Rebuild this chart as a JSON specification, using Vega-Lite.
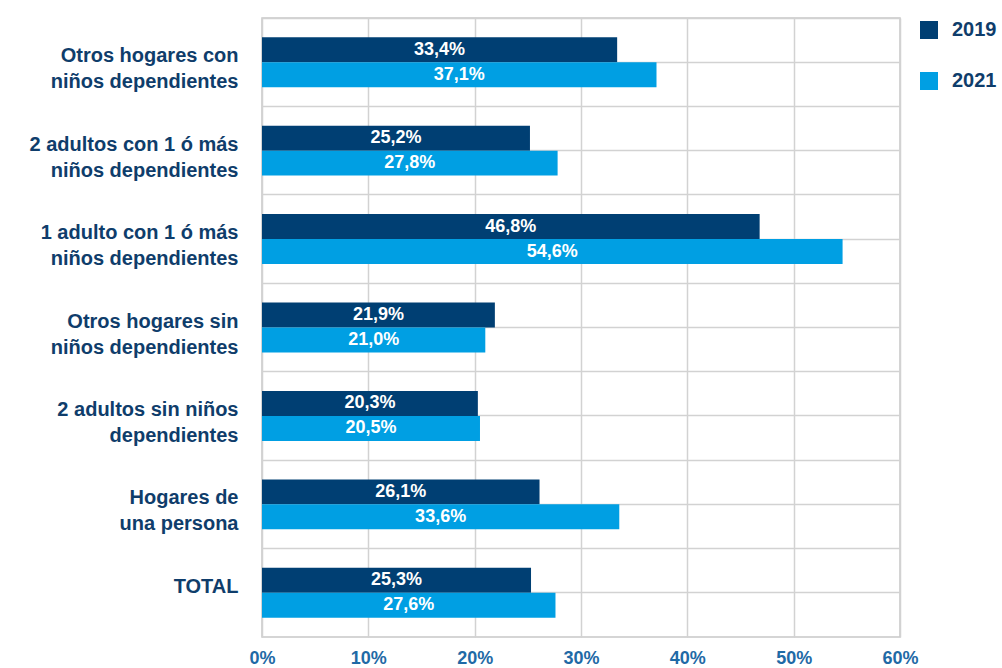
{
  "$schema": "https://vega.github.io/schema/vega-lite/v6.json",
  "autosize": {"type": "none"},
  "width": 638,
  "height": 619,
  "padding": {"left": 262, "top": 18, "right": 102, "bottom": 31},
  "config": {
    "font": "Liberation Sans",
    "locale": {"number": {"decimal": ",", "thousands": ".", "grouping": [3], "currency": ["", " €"]}},
    "view": {"stroke": "#c8c8c8", "strokeWidth": 1.5}
  },
  "data": {
    "values": [
      {"cat": "Otros hogares con|niños dependientes", "year": "2019", "v": 0.334},
      {"cat": "Otros hogares con|niños dependientes", "year": "2021", "v": 0.371},
      {"cat": "2 adultos con 1 ó más|niños dependientes", "year": "2019", "v": 0.252},
      {"cat": "2 adultos con 1 ó más|niños dependientes", "year": "2021", "v": 0.278},
      {"cat": "1 adulto con 1 ó más|niños dependientes", "year": "2019", "v": 0.468},
      {"cat": "1 adulto con 1 ó más|niños dependientes", "year": "2021", "v": 0.546},
      {"cat": "Otros hogares sin|niños dependientes", "year": "2019", "v": 0.219},
      {"cat": "Otros hogares sin|niños dependientes", "year": "2021", "v": 0.210},
      {"cat": "2 adultos sin niños|dependientes", "year": "2019", "v": 0.203},
      {"cat": "2 adultos sin niños|dependientes", "year": "2021", "v": 0.205},
      {"cat": "Hogares de|una persona", "year": "2019", "v": 0.261},
      {"cat": "Hogares de|una persona", "year": "2021", "v": 0.336},
      {"cat": "TOTAL", "year": "2019", "v": 0.253},
      {"cat": "TOTAL", "year": "2021", "v": 0.276}
    ]
  },
  "encoding": {
    "yOffset": {"field": "year", "type": "nominal", "scale": {"paddingOuter": 0.77, "paddingInner": 0}}
  },
  "layer": [
    {
      "mark": {"type": "bar"},
      "encoding": {
        "y": {
          "field": "cat", "type": "nominal", "sort": null,
          "scale": {"paddingInner": 0, "paddingOuter": 0},
          "axis": {
            "title": null, "ticks": false, "domain": false,
            "grid": true, "bandPosition": 0, "gridColor": "#d2d2d2", "gridWidth": 1.5,
            "labelExpr": "split(datum.label, '|')",
            "labelFontSize": 20, "labelFontWeight": "bold", "labelColor": "#0f3d6b",
            "labelLineHeight": 26, "labelPadding": 24, "labelLimit": 400, "labelOffset": -6
          }
        },
        "x": {
          "field": "v", "type": "quantitative",
          "scale": {"domain": [0, 0.6], "nice": false},
          "axis": {
            "title": null, "format": ".0%", "values": [0, 0.1, 0.2, 0.3, 0.4, 0.5, 0.6],
            "labelOverlap": false, "labelFlush": false,
            "ticks": false, "domain": false, "grid": true, "gridColor": "#d2d2d2", "gridWidth": 1.5,
            "labelFontSize": 18, "labelFontWeight": "bold", "labelColor": "#1f6aa6", "labelPadding": 12
          }
        },
        "color": {
          "field": "year", "type": "nominal",
          "scale": {"domain": ["2019", "2021"], "range": ["#003f73", "#009fe3"]},
          "legend": {
            "title": null, "orient": "none", "legendX": 657, "legendY": 2,
            "symbolType": "square", "symbolSize": 324, "symbolStrokeWidth": 0,
            "labelFontSize": 20, "labelFontWeight": "bold", "labelColor": "#0f3d6b",
            "labelOffset": 13, "rowPadding": 31
          }
        }
      }
    },
    {
      "mark": {"type": "text", "color": "white", "fontWeight": "bold", "fontSize": 18, "baseline": "middle"},
      "encoding": {
        "y": {
          "field": "cat", "type": "nominal", "sort": null,
          "axis": {
            "title": null, "orient": "right", "labels": false, "ticks": false, "domain": false,
            "grid": true, "bandPosition": 0.5, "gridColor": "#d2d2d2", "gridWidth": 1.5
          }
        },
        "x": {"field": "v", "type": "quantitative", "scale": {"domain": [0, 1.2], "nice": false}, "axis": null},
        "text": {"field": "v", "type": "quantitative", "format": ".1%"}
      }
    }
  ],
  "resolve": {"scale": {"x": "independent"}, "axis": {"y": "independent"}}
}
